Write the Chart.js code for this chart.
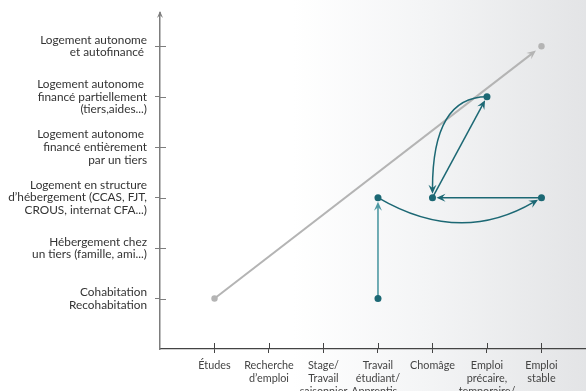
<!DOCTYPE html>
<html>
<head>
<meta charset="utf-8">
<script src="https://cdn.jsdelivr.net/npm/chart.js@4/dist/chart.umd.min.js"></script>
<style>
    html, body { margin: 0; padding: 0; }
    body {
        width: 586px;
        height: 391px;
        overflow: hidden;
        background: linear-gradient(to right, #ffffff 0%, #ffffff 50%, #f4f5f6 72%, #e3e4e6 100%);
    }
    canvas { display: block; }
</style>
</head>
<body>
<canvas id="chart" width="586" height="391"></canvas>
<script>
// Situation professionnelle (axe horizontal)
const jobLabels = [
    ['Études'],
    ['Recherche', 'd’emploi'],
    ['Stage/', 'Travail', 'saisonnier'],
    ['Travail', 'étudiant/', 'Apprentis...'],
    ['Chomâge'],
    ['Emploi', 'précaire,', 'temporaire/'],
    ['Emploi', 'stable']
];

// Situation de logement (axe vertical)
const housingLabels = [
    ['Cohabitation', 'Recohabitation'],
    ['Hébergement chez', 'un tiers (famille, ami...)'],
    ['Logement en structure', 'd’hébergement (CCAS, FJT,', 'CROUS, internat CFA...)'],
    ['Logement autonome ', 'financé entièrement', 'par un tiers'],
    ['Logement autonome ', 'financé partiellement', '(tiers,aides...)'],
    ['Logement autonome', 'et autofinancé ']
];

// Parcours "idéal" (ligne grise)
const trendX = [0, 6];
const trendY = [0, 5];

// Parcours réel (points bleus)
const stepX = [3, 3, 6, 4, 5];
const stepY = [0, 2, 2, 2, 4];

// Transitions entre les points du parcours (index de départ, index d'arrivée)
const moves = [[0, 1], [1, 2], [2, 3], [3, 4], [4, 3]];

const GRAY = '#b4b4b4';
const TEAL = '#1c6874';
const TEAL_LIGHT = '#4e99a3';

// forme de chaque transition
const moveShapes = ['light', 'sag', 'straight', 'straight', 'elbow'];

function arrowHead(ctx, x, y, angle, len, half, color) {
    ctx.save();
    ctx.translate(x, y);
    ctx.rotate(angle);
    ctx.beginPath();
    ctx.moveTo(0, 0);
    ctx.lineTo(-len, -half);
    ctx.lineTo(-len * 0.62, 0);
    ctx.lineTo(-len, half);
    ctx.closePath();
    ctx.fillStyle = color;
    ctx.fill();
    ctx.restore();
}

function drawMove(ctx, a, b, ctrl, color, width, gap) {
    // direction at the end of the path
    const from = ctrl || a;
    let dx = b.x - from.x, dy = b.y - from.y;
    const d = Math.hypot(dx, dy);
    dx /= d; dy /= d;
    const tip = { x: b.x - dx * gap, y: b.y - dy * gap };
    const stop = { x: tip.x - dx * 5, y: tip.y - dy * 5 };

    ctx.save();
    ctx.strokeStyle = color;
    ctx.lineWidth = width;
    ctx.beginPath();
    ctx.moveTo(a.x, a.y);
    if (ctrl) {
        ctx.quadraticCurveTo(ctrl.x, ctrl.y, stop.x, stop.y);
    } else {
        ctx.lineTo(stop.x, stop.y);
    }
    ctx.stroke();
    ctx.restore();

    arrowHead(ctx, tip.x, tip.y, Math.atan2(dy, dx), 9, 4, color);
}

const pathPlugin = {
    id: 'paths',
    beforeDatasetsDraw(chart) {
        const { ctx, scales: { x, y } } = chart;
        const px = (vx, vy) => ({ x: x.getPixelForValue(vx), y: y.getPixelForValue(vy) });

        // grey trend line
        const t0 = px(trendX[0], trendY[0]);
        const t1 = px(trendX[1], trendY[1]);
        drawMove(ctx, t0, t1, null, GRAY, 2, 7);

        moves.forEach(([i, j], k) => {
            const a = px(stepX[i], stepY[i]);
            const b = px(stepX[j], stepY[j]);
            const shape = moveShapes[k];
            if (shape === 'light') {
                drawMove(ctx, a, b, null, TEAL_LIGHT, 1.6, 4);
            } else if (shape === 'sag') {
                const ctrl = { x: (a.x + b.x) / 2, y: (a.y + b.y) / 2 + 48 };
                drawMove(ctx, a, b, ctrl, TEAL, 1.5, 4);
            } else if (shape === 'elbow') {
                const ctrl = { x: b.x, y: a.y };
                drawMove(ctx, a, b, ctrl, TEAL, 1.5, 4);
            } else {
                drawMove(ctx, a, b, null, TEAL, 1.5, 4);
            }
        });
    },
    afterDraw(chart) {
        const { ctx, chartArea, scales: { x, y } } = chart;
        ctx.save();
        // inner half of the tick marks
        ctx.lineWidth = 1;
        ctx.strokeStyle = '#7d7d7d';
        y.ticks.forEach(t => {
            const py = Math.round(y.getPixelForValue(t.value)) + 0.5;
            ctx.beginPath();
            ctx.moveTo(chartArea.left, py);
            ctx.lineTo(chartArea.left + 6, py);
            ctx.stroke();
        });
        ctx.strokeStyle = '#444';
        x.ticks.forEach(t => {
            const pxv = Math.round(x.getPixelForValue(t.value)) + 0.5;
            ctx.beginPath();
            ctx.moveTo(pxv, chartArea.bottom);
            ctx.lineTo(pxv, chartArea.bottom - 6);
            ctx.stroke();
        });
        // arrow on top of the vertical axis
        ctx.strokeStyle = '#7d7d7d';
        ctx.lineWidth = 1.5;
        ctx.beginPath();
        ctx.moveTo(chartArea.left, chartArea.top);
        ctx.lineTo(chartArea.left, chartArea.top - 2);
        ctx.stroke();
        arrowHead(ctx, chartArea.left, chartArea.top - 3, -Math.PI / 2, 7, 3, '#7d7d7d');
        ctx.restore();
    }
};

new Chart(document.getElementById('chart'), {
    type: 'scatter',
    data: {
        datasets: [
            {
                data: trendX.map((v, i) => ({ x: v, y: trendY[i] })),
                pointRadius: 3.2,
                pointBackgroundColor: GRAY,
                pointBorderWidth: 0,
                showLine: false
            },
            {
                data: stepX.map((v, i) => ({ x: v, y: stepY[i] })),
                pointRadius: 3.5,
                pointBackgroundColor: TEAL,
                pointBorderWidth: 0,
                showLine: false
            }
        ]
    },
    options: {
        responsive: false,
        animation: false,
        events: [],
        layout: { autoPadding: false, padding: { top: 14, right: 0, bottom: 0, left: 0 } },
        plugins: {
            legend: { display: false },
            tooltip: { enabled: false }
        },
        scales: {
            x: {
                type: 'linear',
                min: -1,
                max: 6.817,
                afterBuildTicks: s => { s.ticks = jobLabels.map((_, i) => ({ value: i })); },
                afterFit: s => {
                    s.height = 42;
                    s.paddingLeft = 0;
                    s.paddingRight = 0;
                },
                grid: { drawOnChartArea: false, drawTicks: true, tickLength: 4, color: '#444', lineWidth: 1 },
                border: { color: '#444', width: 1.2 },
                ticks: {
                    callback: v => jobLabels[v],
                    font: { family: 'Lato', size: 10.8, lineHeight: 1.2 },
                    color: '#444',
                    padding: 6,
                    maxRotation: 0,
                    autoSkip: false
                }
            },
            y: {
                type: 'linear',
                min: -1,
                max: 5.64,
                afterBuildTicks: s => { s.ticks = housingLabels.map((_, i) => ({ value: i })); },
                afterFit: s => {
                    s.width = 160;
                    s.paddingTop = 0;
                    s.paddingBottom = 0;
                },
                grid: { drawOnChartArea: false, drawTicks: true, tickLength: 5, color: '#7d7d7d', lineWidth: 1 },
                border: { color: '#7d7d7d', width: 1.5 },
                ticks: {
                    callback: v => housingLabels[v],
                    font: { family: 'Lato', size: 11.8, lineHeight: 1.08 },
                    color: '#333',
                    padding: 8,
                    autoSkip: false
                }
            }
        }
    },
    plugins: [pathPlugin]
});
</script>
</body>
</html>
